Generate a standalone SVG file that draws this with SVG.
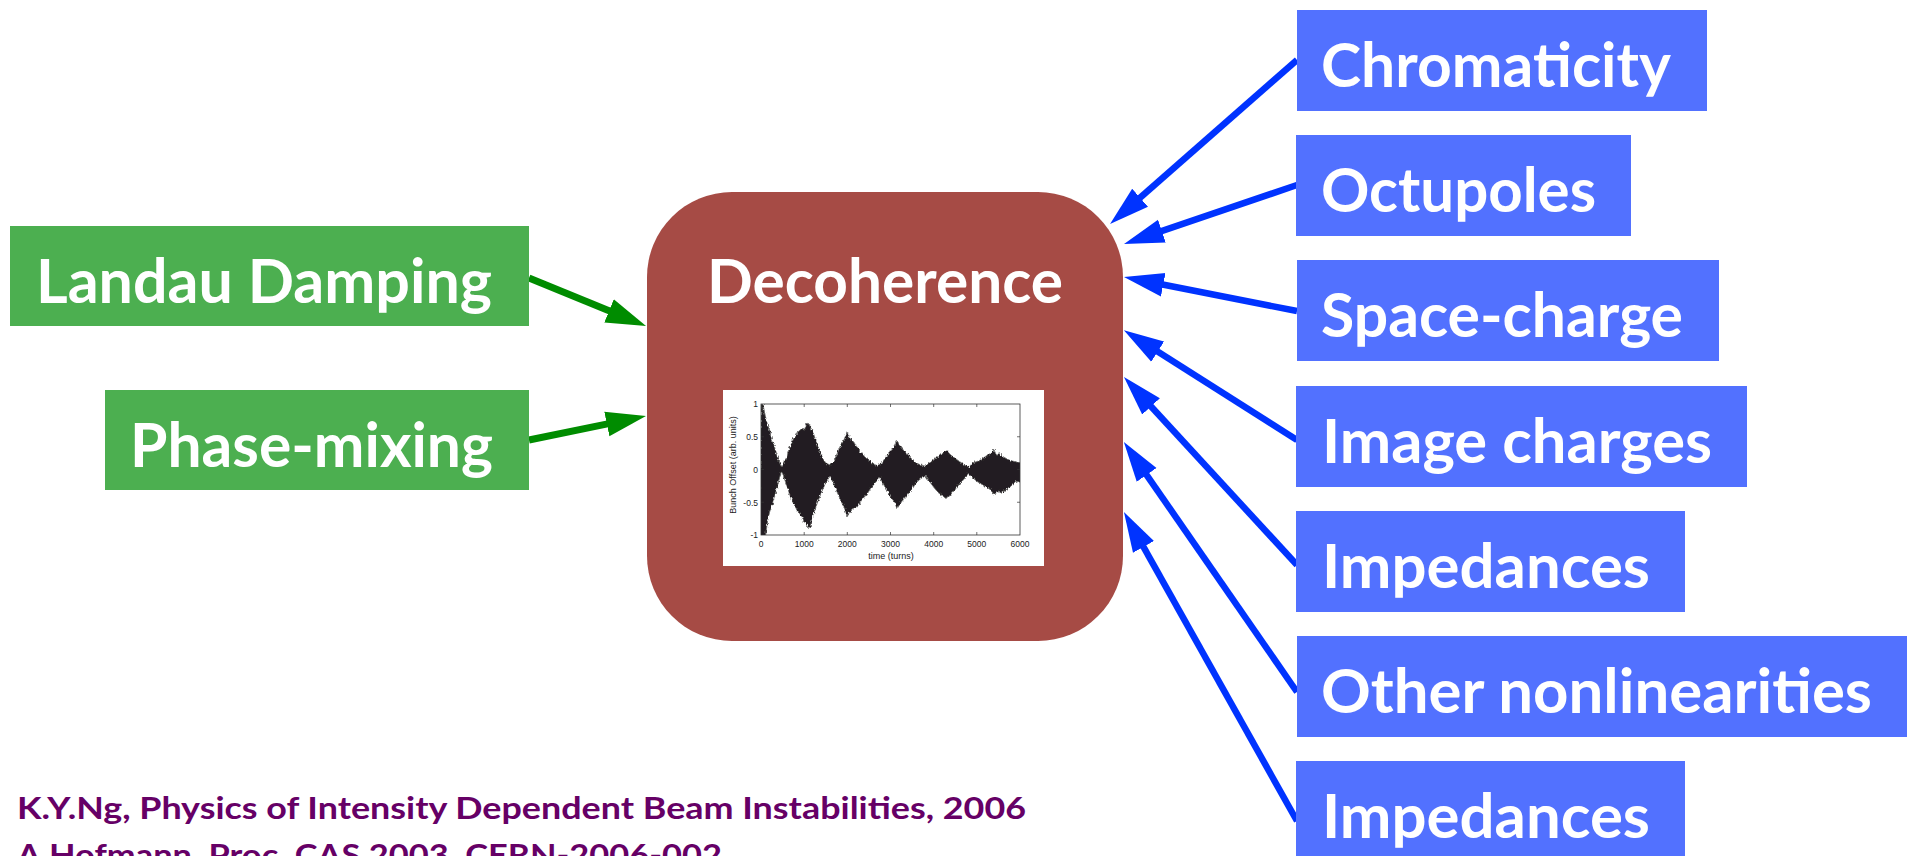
<svg xmlns="http://www.w3.org/2000/svg" width="1907" height="856" viewBox="0 0 1907 856">
<style>
.lbl{font-family:Lato,"Open Sans","Liberation Sans",sans-serif;font-weight:bold;font-size:61px;fill:#ffffff}
.ref{font-family:Lato,"Open Sans","Liberation Sans",sans-serif;font-weight:bold;font-size:31px;fill:#660066}
.gbox{fill:#4caf50}
.bbox{fill:#5271ff}
.garrow{stroke:#008c00;stroke-width:7;fill:none}
.barrow{stroke:#0033ff;stroke-width:6.5;fill:none}
.tick{font-family:"Liberation Sans",Arial,sans-serif;font-size:8.5px;fill:#222}
.axl{font-family:"Liberation Sans",Arial,sans-serif;font-size:9px;fill:#222}
.tk{stroke:#333;stroke-width:0.7}
</style>
<defs>
<marker id="gh" markerUnits="userSpaceOnUse" markerWidth="42" markerHeight="26" viewBox="0 0 42 26" refX="2" refY="13" orient="auto">
<path d="M0,0.5 L40,13 L0,25.5 z" fill="#008c00"/>
</marker>
<marker id="bh" markerUnits="userSpaceOnUse" markerWidth="42" markerHeight="26" viewBox="0 0 42 26" refX="2" refY="13" orient="auto">
<path d="M0,1 L40,13 L0,25 z" fill="#0033ff"/>
</marker>
<filter id="noise" x="-2%" y="-10%" width="104%" height="120%">
<feTurbulence type="fractalNoise" baseFrequency="0.8 0.35" numOctaves="2" seed="3" result="t"/>
<feDisplacementMap in="SourceGraphic" in2="t" scale="4" xChannelSelector="R" yChannelSelector="G"/>
</filter>
<clipPath id="plotclip"><rect x="761" y="404" width="259" height="131"/></clipPath>
</defs>
<rect width="1907" height="856" fill="#ffffff"/>

<g id="connectors">
<line class="garrow" x1="529" y1="278" x2="610.9" y2="311.6" marker-end="url(#gh)"/>
<line class="garrow" x1="529" y1="440" x2="608.8" y2="423.6" marker-end="url(#gh)"/>
<line class="barrow" x1="1297" y1="60" x2="1138.6" y2="199" marker-end="url(#bh)"/>
<line class="barrow" x1="1297" y1="185" x2="1160" y2="231.7" marker-end="url(#bh)"/>
<line class="barrow" x1="1297" y1="311" x2="1161.3" y2="284.3" marker-end="url(#bh)"/>
<line class="barrow" x1="1297" y1="440" x2="1156" y2="350.5" marker-end="url(#bh)"/>
<line class="barrow" x1="1297" y1="565" x2="1149.7" y2="405" marker-end="url(#bh)"/>
<line class="barrow" x1="1297" y1="692" x2="1145.5" y2="473.3" marker-end="url(#bh)"/>
<line class="barrow" x1="1297" y1="821" x2="1142.5" y2="545.2" marker-end="url(#bh)"/>
</g>

<g id="landau">
<rect class="gbox" x="10" y="226" width="519" height="100"/>
<text class="lbl" x="36" y="303" textLength="456" lengthAdjust="spacingAndGlyphs">Landau Damping</text>
</g>
<g id="phase">
<rect class="gbox" x="105" y="390" width="424" height="100"/>
<text class="lbl" x="130" y="467" textLength="363" lengthAdjust="spacingAndGlyphs">Phase-mixing</text>
</g>

<g id="decoherence">
<rect x="647" y="192" width="476" height="449" rx="85" ry="85" fill="#a64b45"/>
<text class="lbl" x="885" y="303" text-anchor="middle" textLength="356" lengthAdjust="spacingAndGlyphs">Decoherence</text>
<g id="chart">
<rect x="723" y="390" width="321" height="176" fill="#ffffff"/>
<g clip-path="url(#plotclip)">
<path filter="url(#noise)" fill="#231f20" stroke="#6e6e6e" stroke-width="0.8" stroke-linejoin="round" d="M761,402 L763.2,405.3 765.3,415.8 767.5,425 769.6,428.9 771.8,440 774,444.6 776.1,453.1 778.3,459.7 781.3,466.5 784.7,461.6 786.9,456.4 789.1,448.5 791.2,444.6 793.4,438.7 795.5,436.8 797.7,432.2 799.9,430.2 802,428.2 804.2,430.2 806.3,425 808.5,422.3 810.6,427.6 812.8,431.5 815,438.1 817.1,443.3 819.3,449.9 821.4,455.1 823.6,459.7 825.8,463 830.1,465 832.2,463 834.4,459.7 836.5,455.1 838.7,449.9 840.9,444.6 843,442 845.2,436.8 847.3,432.2 849.5,438.1 851.7,440 853.8,442 856,445.9 858.1,447.9 860.3,451.8 864.6,456.4 868.9,460.3 873.2,464.3 877.6,465.5 881.9,463 886.2,456.4 888.3,455.1 890.5,449.9 892.7,447.9 894.8,444.6 897,440 899.1,444.6 901.3,447.9 903.5,449.9 907.8,454.4 912.1,459.7 916.4,463 920.7,465 925,466 929.4,463 933.7,459.7 938,456.4 942.3,453.8 946.6,449.9 948.8,453.1 950.9,455.1 955.3,458.4 959.6,461.6 963.9,464.5 968.2,467.5 970.4,465.6 972.5,463 976.8,461.6 981.1,459.7 985.5,456.4 989.8,453.8 994.1,449.9 996.3,455.1 998.4,453.1 1002.7,456.4 1007.1,459 1011.4,461 1015.7,461.6 1022,463 L1022,482.6 1015.7,481.3 1011.4,485.9 1007.1,489.2 1002.7,492.4 998.4,491.1 994.1,494.4 989.8,489.2 985.5,486.5 981.1,483.9 976.8,481.3 972.5,477.4 968.2,473.5 963.9,479.3 959.6,483.9 955.3,489.2 950.9,494.4 946.6,499 942.3,495.7 938,492.4 933.7,487.2 929.4,481.3 925,476.1 920.7,478.7 916.4,482.6 912.1,489.2 907.8,494.4 903.5,499 899.1,505.5 897,508.8 894.8,502.3 890.5,497 886.2,489.2 881.9,481.3 879.7,477.4 875.4,482.6 871.1,487.8 866.8,494.4 862.4,499 858.1,505.5 853.8,508.8 849.5,512.1 847.3,516.7 845.2,510.1 843,505.5 838.7,495.7 834.4,485.9 830.1,476.1 825.8,482.6 821.4,492.4 817.1,503.6 812.8,516.7 810.6,525.2 808.5,528.5 806.3,523.2 804.2,521.9 802,516.7 799.9,514 795.5,507.5 791.2,499 786.9,485.9 782.6,473.5 781.3,471.8 778.3,482.6 774,499 769.6,512.1 767.5,521.9 765.3,537 763.2,537 759,537 Z"/>
</g>
<rect x="761" y="404" width="259" height="131" fill="none" stroke="#333" stroke-width="0.8"/>
<path class="tk" d="M804.2,404v3M847.3,404v3M890.5,404v3M933.7,404v3M976.8,404v3M804.2,535v-3M847.3,535v-3M890.5,535v-3M933.7,535v-3M976.8,535v-3M761,436.75h3M761,469.5h3M761,502.25h3M1020,436.75h-3M1020,469.5h-3M1020,502.25h-3"/>
<g class="tick" text-anchor="end">
<text x="758" y="407">1</text>
<text x="758" y="440">0.5</text>
<text x="758" y="472.5">0</text>
<text x="758" y="505.5">-0.5</text>
<text x="758" y="538">-1</text>
</g>
<g class="tick" text-anchor="middle">
<text x="761" y="547">0</text>
<text x="804.2" y="547">1000</text>
<text x="847.3" y="547">2000</text>
<text x="890.5" y="547">3000</text>
<text x="933.7" y="547">4000</text>
<text x="976.8" y="547">5000</text>
<text x="1020" y="547">6000</text>
</g>
<text class="axl" x="891" y="559" text-anchor="middle">time (turns)</text>
<text class="axl" x="0" y="0" text-anchor="middle" transform="translate(736,465) rotate(-90)">Bunch Offset (arb. units)</text>
</g>
</g>

<g id="chromaticity">
<rect class="bbox" x="1297" y="10" width="410" height="101"/>
<text class="lbl" x="1321" y="87" textLength="350" lengthAdjust="spacingAndGlyphs">Chromaticity</text>
</g>
<g id="octupoles">
<rect class="bbox" x="1296" y="135" width="335" height="101"/>
<text class="lbl" x="1321" y="212" textLength="275" lengthAdjust="spacingAndGlyphs">Octupoles</text>
</g>
<g id="spacecharge">
<rect class="bbox" x="1297" y="260" width="422" height="101"/>
<text class="lbl" x="1321" y="337" textLength="362" lengthAdjust="spacingAndGlyphs">Space-charge</text>
</g>
<g id="imagecharges">
<rect class="bbox" x="1296" y="386" width="451" height="101"/>
<text class="lbl" x="1322" y="463" textLength="390" lengthAdjust="spacingAndGlyphs">Image charges</text>
</g>
<g id="impedances1">
<rect class="bbox" x="1296" y="511" width="389" height="101"/>
<text class="lbl" x="1322" y="588" textLength="328" lengthAdjust="spacingAndGlyphs">Impedances</text>
</g>
<g id="othernonlinearities">
<rect class="bbox" x="1297" y="636" width="610" height="101"/>
<text class="lbl" x="1321" y="713" textLength="551" lengthAdjust="spacingAndGlyphs">Other nonlinearities</text>
</g>
<g id="impedances2">
<rect class="bbox" x="1296" y="761" width="389" height="101"/>
<text class="lbl" x="1322" y="838" textLength="328" lengthAdjust="spacingAndGlyphs">Impedances</text>
</g>

<g id="references">
<text class="ref" x="17" y="819" textLength="1009" lengthAdjust="spacingAndGlyphs">K.Y.Ng, Physics of Intensity Dependent Beam Instabilities, 2006</text>
<text class="ref" x="17" y="866" textLength="705" lengthAdjust="spacingAndGlyphs">A.Hofmann, Proc. CAS 2003, CERN-2006-002</text>
</g>
</svg>
